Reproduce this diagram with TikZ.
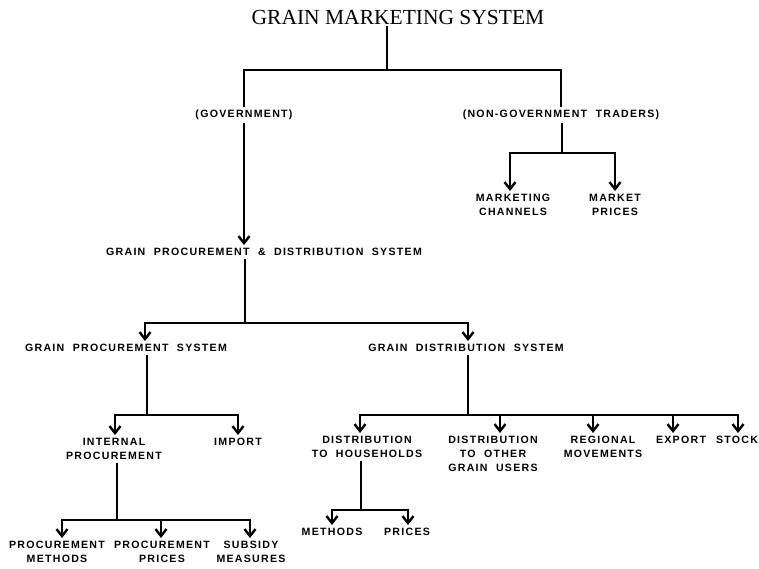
\documentclass[tikz,border=0pt]{standalone}
\usepackage{fontspec}
\setmainfont{Liberation Serif}
\newfontfamily\blockfont{Liberation Sans}[LetterSpace=12,WordSpace=2]
\usetikzlibrary{arrows.meta}

\tikzset{
  headline/.style={font=\fontsize{21.5}{25}\selectfont, inner sep=2pt},
  lbl/.style={font=\blockfont\bfseries\fontsize{10.6}{14}\selectfont, align=center, inner sep=3pt},
  link/.style={line width=2.8pt, line join=miter},
  arr/.style={link, -{Straight Barb[length=7pt,width=11pt,line width=2.4pt]}},
}

\begin{document}
\begin{tikzpicture}[x=1pt,y=-1pt]
\useasboundingbox (0,0) rectangle (759,568);

% labels
\node[headline] (gms) at (398,17) {GRAIN MARKETING SYSTEM};
\node[lbl] (gov) at (244,115) {(GOVERNMENT)};
\node[lbl] (ngt) at (561,115) {(NON-GOVERNMENT TRADERS)};
\node[lbl,anchor=north] (mch) at (513,191) {MARKETING\\CHANNELS};
\node[lbl,anchor=north] (mpr) at (615,191) {MARKET\\PRICES};
\node[lbl] (pds) at (264,252) {GRAIN PROCUREMENT \& DISTRIBUTION SYSTEM};
\node[lbl,anchor=north] (gps) at (126,341) {GRAIN PROCUREMENT SYSTEM};
\node[lbl,anchor=north] (gds) at (466,341) {GRAIN DISTRIBUTION SYSTEM};
\node[lbl,anchor=north] (inp) at (114,435) {INTERNAL\\PROCUREMENT};
\node[lbl,anchor=north] (imp) at (238,435) {IMPORT};
\node[lbl,anchor=north] (dhh) at (367,433) {DISTRIBUTION\\TO HOUSEHOLDS};
\node[lbl,anchor=north] (dog) at (493,433) {DISTRIBUTION\\TO OTHER\\GRAIN USERS};
\node[lbl,anchor=north] (rmv) at (603,433) {REGIONAL\\MOVEMENTS};
\node[lbl,anchor=north] (exp) at (681,433) {EXPORT};
\node[lbl,anchor=north] (stk) at (737,433) {STOCK};
\node[lbl,anchor=north] (pmt) at (57,538) {PROCUREMENT\\METHODS};
\node[lbl,anchor=north] (ppr) at (162,538) {PROCUREMENT\\PRICES};
\node[lbl,anchor=north] (sbm) at (251,538) {SUBSIDY\\MEASURES};
\node[lbl,anchor=north] (hmt) at (332,525) {METHODS};
\node[lbl,anchor=north] (hpr) at (407,525) {PRICES};

% branch points
\coordinate (topbar) at (387,70);
\coordinate (ngtbar) at (562,153);
\coordinate (pdsbar) at (245,323);
\coordinate (gpsbar) at (147,415);
\coordinate (gdsbar) at (468,415);
\coordinate (inpbar) at (117,520);
\coordinate (dhhbar) at (361,510);

% connectors
\draw[link] (gms.south -| topbar) -- (topbar);
\draw[link] (gov.north) |- (topbar) -| (ngt.north);

\draw[link] (ngt.south -| ngtbar) -- (ngtbar);
\draw[arr] (ngtbar) -| ([xshift=-3pt]mch.north);
\draw[arr] (ngtbar) -| (mpr.north);

\draw[arr] (gov.south) -- (gov.south |- pds.north);

\draw[link] (pds.south -| pdsbar) -- (pdsbar);
\draw[arr] (pdsbar) -| ([xshift=19pt]gps.north);
\draw[arr] (pdsbar) -| ([xshift=2pt]gds.north);

\draw[link] (gps.south -| gpsbar) -- (gpsbar);
\draw[arr] (gpsbar) -| ([xshift=1pt]inp.north);
\draw[arr] (gpsbar) -| (imp.north);

\draw[link] (gds.south -| gdsbar) -- (gdsbar);
\draw[arr] (gdsbar) -| ([xshift=-7pt]dhh.north);
\draw[arr] (gdsbar) -| ([xshift=7pt]dog.north);
\draw[arr] (gdsbar) -| ([xshift=-10pt]rmv.north);
\draw[arr] (gdsbar) -| ([xshift=-8pt]exp.north);
\draw[arr] (gdsbar) -| ([xshift=1pt]stk.north);

\draw[link] (inp.south -| inpbar) -- (inpbar);
\draw[arr] (inpbar) -| ([xshift=5pt]pmt.north);
\draw[arr] (inpbar) -| ([xshift=-1pt]ppr.north);
\draw[arr] (inpbar) -| ([xshift=-1pt]sbm.north);

\draw[link] (dhh.south -| dhhbar) -- (dhhbar);
\draw[arr] (dhhbar) -| (hmt.north);
\draw[arr] (dhhbar) -| ([xshift=1pt]hpr.north);
\end{tikzpicture}
\end{document}
